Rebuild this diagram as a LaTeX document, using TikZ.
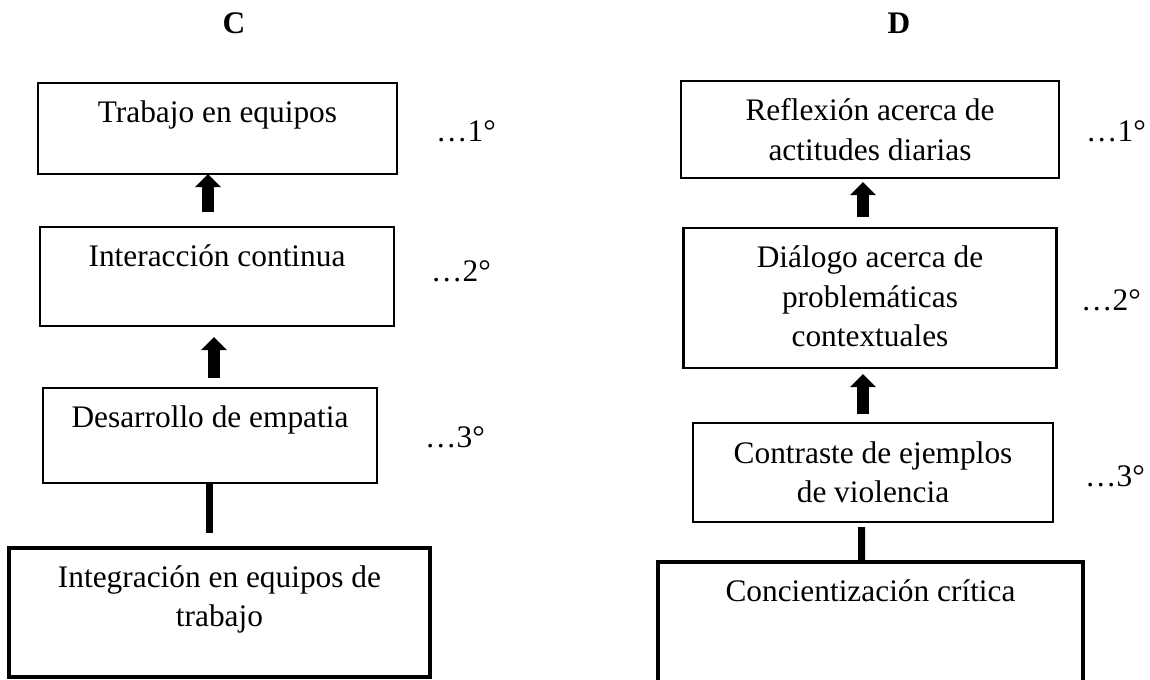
\documentclass[tikz,border=0pt]{standalone}
\usepackage{fontspec}
\setmainfont{Liberation Serif}
\usetikzlibrary{arrows.meta}

\newdimen\pxu
\pxu=0.025cm
\newcommand{\boxfont}{\fontsize{22.3}{27.74}\selectfont}

\tikzset{
  stepbox/.style={draw, line width=2.2\pxu, outer sep=0pt, inner ysep=0pt,
    anchor=north, align=center, text height=39\pxu, font=\boxfont},
  basebox/.style={stepbox, line width=3.8\pxu},
  uparrow/.style={line width=12\pxu, -{Triangle[width=0.625cm, length=0.325cm]}},
  joinline/.style={line width=7\pxu},
  ranklabel/.style={anchor=base, inner sep=0pt, font=\boxfont},
  coltitle/.style={anchor=base, inner sep=0pt, font=\boxfont\bfseries}
}

\begin{document}
\begin{tikzpicture}[x=0.025cm, y=-0.025cm]
\useasboundingbox (0,0) rectangle (1150,679);
\clip (0,0) rectangle (1150,679);

% column C
\node[coltitle] (titleC) at (234,33) {C};
\node[stepbox, minimum width=359\pxu, text depth=52\pxu] (trabajo) at (217.5,83) {Trabajo en equipos};
\node[stepbox, minimum width=354\pxu, text depth=60\pxu] (interaccion) at (217,227) {Interacción continua};
\node[stepbox, minimum width=334\pxu, text depth=56\pxu] (empatia) at (210,388) {Desarrollo de empatia};
\node[basebox, minimum width=421\pxu, text height=78\pxu, text depth=51\pxu] (integracion) at (219.5,548) {Integración en equipos de\\ trabajo};

\node[ranklabel] (rankC1) at (466,141) {…1°};
\node[ranklabel] (rankC2) at (461,281) {…2°};
\node[ranklabel] (rankC3) at (455,447) {…3°};

\draw[uparrow] ([xshift=-9\pxu, yshift=15\pxu]interaccion.north) -- ([xshift=-9.5\pxu]trabajo.south);
\draw[uparrow] ([xshift=4\pxu, yshift=10\pxu]empatia.north) -- ([xshift=-3\pxu, yshift=-11\pxu]interaccion.south);
\draw[joinline] ([xshift=-1\pxu]empatia.south) -- ([xshift=-10.5\pxu, yshift=15\pxu]integracion.north);

% column D
\node[coltitle] (titleD) at (899,33) {D};
\node[stepbox, minimum width=378\pxu, text height=79\pxu, text depth=18\pxu] (reflexion) at (870,81) {Reflexión acerca de\\ actitudes diarias};
\node[stepbox, minimum width=373\pxu, text height=118\pxu, text depth=22\pxu] (dialogo) at (870,228) {Diálogo acerca de\\ problemáticas\\ contextuales};
\node[stepbox, minimum width=360\pxu, text height=79\pxu, text depth=20\pxu] (contraste) at (873,423) {Contraste de ejemplos\\ de violencia};
\node[basebox, minimum width=425\pxu, text depth=160\pxu] (concientizacion) at (870.5,562) {Concientización crítica};

\node[ranklabel] (rankD1) at (1116,141) {…1°};
\node[ranklabel] (rankD2) at (1111,310) {…2°};
\node[ranklabel] (rankD3) at (1115,486) {…3°};

\draw[uparrow] ([xshift=-7\pxu, yshift=11\pxu]dialogo.north) -- ([xshift=-7\pxu, yshift=-4\pxu]reflexion.south);
\draw[uparrow] ([xshift=-10\pxu, yshift=9\pxu]contraste.north) -- ([xshift=-7\pxu, yshift=-6\pxu]dialogo.south);
\draw[joinline] ([xshift=-11.5\pxu, yshift=-5\pxu]contraste.south) -- ([xshift=-9\pxu]concientizacion.north);
\end{tikzpicture}
\end{document}
